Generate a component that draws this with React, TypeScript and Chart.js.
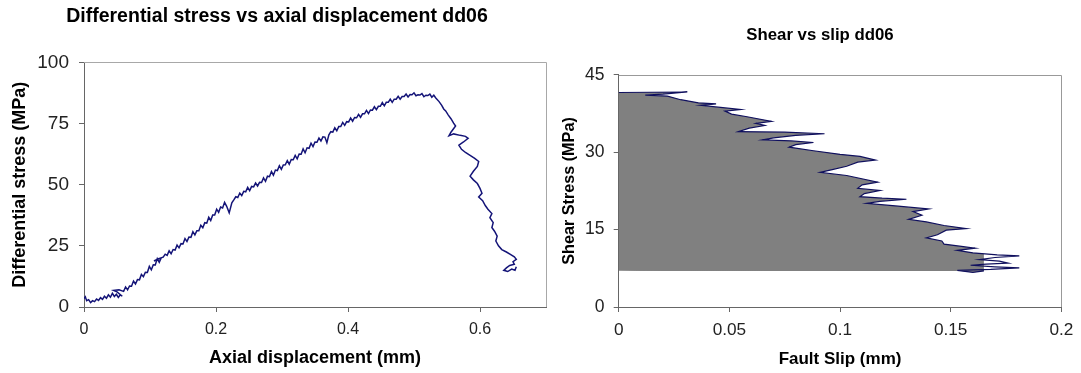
import React, { useEffect, useRef } from "react";
import { Chart, registerables } from "chart.js";

Chart.register(...registerables);

const FONT = "'Liberation Sans', Arial, Helvetica, sans-serif";

// ---------- Left chart: differential stress vs axial displacement ----------
const leftTitle = "Differential stress vs axial displacement dd06";
const leftXTitle = "Axial displacement (mm)";
const leftYTitle = "Differential stress (MPa)";
const leftXTicks = [0, 0.2, 0.4, 0.6];
const leftYTicks = [0, 25, 50, 75, 100];

const displacement = [
  0.000, 0.002, 0.004, 0.007, 0.010, 0.013, 0.016, 0.019, 0.022, 0.025,
  0.028, 0.031, 0.034, 0.037, 0.040, 0.043, 0.046, 0.049, 0.052, 0.055,
  0.058, 0.050, 0.045, 0.053, 0.060, 0.063, 0.066, 0.069, 0.072, 0.075,
  0.078, 0.081, 0.084, 0.087, 0.090, 0.093, 0.096, 0.099, 0.102, 0.105,
  0.108, 0.111, 0.114, 0.117, 0.106, 0.113, 0.120, 0.123, 0.126, 0.129,
  0.132, 0.135, 0.138, 0.141, 0.144, 0.147, 0.150, 0.153, 0.156, 0.159,
  0.162, 0.165, 0.168, 0.171, 0.174, 0.177, 0.180, 0.183, 0.186, 0.189,
  0.192, 0.195, 0.198, 0.201, 0.204, 0.207, 0.210, 0.213, 0.216, 0.220,
  0.224, 0.227, 0.230, 0.233, 0.236, 0.239, 0.242, 0.245, 0.248, 0.251,
  0.254, 0.257, 0.260, 0.263, 0.266, 0.269, 0.272, 0.275, 0.278, 0.281,
  0.284, 0.287, 0.290, 0.293, 0.296, 0.299, 0.302, 0.305, 0.308, 0.311,
  0.314, 0.317, 0.320, 0.323, 0.326, 0.329, 0.332, 0.335, 0.338, 0.341,
  0.344, 0.347, 0.350, 0.353, 0.356, 0.359, 0.362, 0.365, 0.368, 0.371,
  0.374, 0.377, 0.380, 0.383, 0.386, 0.389, 0.392, 0.395, 0.398, 0.401,
  0.404, 0.407, 0.410, 0.413, 0.416, 0.419, 0.422, 0.425, 0.428, 0.431,
  0.434, 0.437, 0.440, 0.443, 0.446, 0.449, 0.452, 0.455, 0.458, 0.461,
  0.464, 0.467, 0.470, 0.473, 0.476, 0.479, 0.482, 0.485, 0.488, 0.491,
  0.494, 0.497, 0.500, 0.503, 0.506, 0.509, 0.512, 0.515, 0.518, 0.521,
  0.524, 0.527, 0.530, 0.533, 0.538, 0.542, 0.545, 0.548, 0.552, 0.556,
  0.560, 0.563, 0.556, 0.553, 0.560, 0.570, 0.578, 0.582, 0.575, 0.568,
  0.572, 0.578, 0.585, 0.592, 0.598, 0.596, 0.590, 0.585, 0.590, 0.596,
  0.600, 0.603, 0.598, 0.604, 0.608, 0.612, 0.618, 0.615, 0.620, 0.618,
  0.622, 0.626, 0.624, 0.628, 0.633, 0.640, 0.646, 0.652, 0.655, 0.650,
  0.652, 0.645, 0.640, 0.636, 0.642, 0.648, 0.653, 0.655,
];

const diffStress = [
  3.5, 4.2, 2.6, 3.0, 1.8, 2.6, 2.2, 3.3, 2.7, 3.8,
  3.1, 4.4, 3.6, 5.0, 4.0, 5.6, 4.3, 5.2, 3.9, 5.0,
  4.4, 6.2, 6.8, 7.0, 6.4, 8.2, 7.0, 8.6, 8.5, 10.6,
  9.4, 11.2, 11.1, 13.3, 12.4, 14.2, 14.1, 16.6, 15.2, 17.3,
  17.2, 19.8, 18.3, 20.1, 18.8, 19.8, 20.4, 21.6, 21.1, 23.0,
  21.8, 23.5, 23.3, 25.3, 24.2, 25.9, 25.8, 28.0, 26.8, 28.6,
  28.5, 30.8, 29.5, 31.2, 31.2, 33.4, 32.4, 34.5, 34.3, 36.7,
  35.4, 37.6, 37.6, 40.0, 38.7, 40.9, 40.5, 42.8, 41.3, 38.5,
  42.6, 43.8, 45.1, 44.8, 46.6, 45.6, 47.3, 47.1, 48.9, 47.6,
  49.3, 49.1, 50.7, 49.5, 51.0, 50.9, 52.8, 51.4, 53.5, 53.3,
  55.4, 53.9, 56.0, 55.8, 57.8, 56.3, 58.1, 58.2, 59.9, 58.4,
  60.3, 60.2, 62.0, 60.6, 62.6, 62.5, 64.7, 63.1, 65.1, 64.9,
  67.0, 65.6, 67.5, 67.4, 69.1, 67.9, 69.6, 69.5, 67.2, 70.4,
  71.7, 71.5, 73.3, 72.1, 73.8, 73.8, 75.5, 74.3, 75.8, 75.7,
  77.3, 76.0, 77.5, 77.4, 78.8, 77.6, 79.0, 79.0, 80.4, 79.1,
  80.6, 80.5, 81.9, 80.7, 82.1, 82.1, 83.6, 82.3, 83.7, 83.7,
  85.0, 83.7, 85.0, 85.0, 86.2, 85.0, 86.1, 86.1, 87.1, 85.9,
  86.9, 86.8, 87.6, 86.4, 86.8, 86.7, 87.3, 86.0, 86.6, 86.5,
  87.1, 85.8, 86.6, 85.5, 84.0, 82.5, 81.0, 80.2, 78.5, 77.0,
  75.2, 74.0, 71.5, 70.0, 70.8, 70.2, 69.8, 69.0, 67.5, 66.2,
  64.5, 63.2, 62.0, 60.8, 59.5, 57.5, 55.5, 53.5, 52.0, 50.5,
  48.5, 46.5, 45.0, 43.5, 41.5, 40.0, 38.2, 36.5, 34.5, 32.5,
  31.0, 29.0, 27.0, 25.0, 23.5, 22.5, 21.5, 20.5, 19.5, 18.5,
  17.5, 17.0, 16.0, 15.0, 14.5, 15.5, 15.0, 16.5,
];

// ---------- Right chart: shear vs slip ----------
const rightTitle = "Shear vs slip dd06";
const rightXTitle = "Fault Slip (mm)";
const rightYTitle = "Shear Stress (MPa)";
const rightXTicks = [0, 0.05, 0.1, 0.15, 0.2];
const rightYTicks = [0, 15, 30, 45];
const fillBase = 7.05;

const faultSlip = [
  0.000, 0.031, 0.020, 0.012, 0.022, 0.028, 0.036, 0.044, 0.037, 0.046,
  0.055, 0.048, 0.051, 0.058, 0.069, 0.062, 0.066, 0.059, 0.054, 0.075,
  0.093, 0.080, 0.070, 0.065, 0.078, 0.088, 0.080, 0.077, 0.088, 0.100,
  0.109, 0.116, 0.108, 0.103, 0.096, 0.091, 0.103, 0.117, 0.110, 0.108,
  0.118, 0.111, 0.109, 0.119, 0.130, 0.118, 0.112, 0.125, 0.140, 0.133,
  0.137, 0.131, 0.139, 0.147, 0.157, 0.148, 0.144, 0.139, 0.146, 0.147,
  0.154, 0.161, 0.153, 0.160, 0.171, 0.181, 0.170, 0.163, 0.172, 0.176,
  0.166, 0.159, 0.170, 0.181, 0.168, 0.153, 0.160, 0.165,
];

const shearStress = [
  41.6, 41.7, 41.3, 41.1, 40.9, 40.2, 39.6, 39.4, 39.1, 38.7,
  38.3, 38.0, 37.4, 36.9, 36.0, 35.6, 35.2, 34.7, 34.0, 33.9,
  33.6, 33.3, 32.8, 32.4, 32.2, 31.9, 31.5, 31.0, 30.3, 29.6,
  29.2, 28.5, 28.1, 27.3, 26.6, 26.1, 25.5, 24.2, 23.7, 23.0,
  22.6, 22.0, 21.4, 21.1, 20.9, 20.5, 20.1, 19.6, 19.0, 18.5,
  17.8, 17.0, 16.5, 15.8, 15.2, 14.9, 14.0, 13.4, 12.8, 12.2,
  11.8, 11.4, 11.0, 10.5, 10.1, 9.9, 9.6, 9.2, 8.9, 8.5,
  8.3, 8.1, 7.8, 7.6, 7.3, 7.1, 6.7, 7.0,
];

const fmt = (v: number) => String(Math.round(v * 10000) / 10000);

function framePlugin(color: string) {
  return {
    id: "frameLines",
    beforeDatasetsDraw(chart: any) {
      const { ctx, chartArea: a } = chart;
      ctx.save();
      ctx.strokeStyle = color;
      ctx.lineWidth = 1;
      ctx.beginPath();
      ctx.moveTo(a.left, Math.round(a.top) + 0.5);
      ctx.lineTo(Math.round(a.right) + 0.5, Math.round(a.top) + 0.5);
      ctx.lineTo(Math.round(a.right) + 0.5, a.bottom);
      ctx.stroke();
      ctx.restore();
    },
  };
}

function makeAxis(o: {
  min: number; max: number; ticks: number[]; tickSize: number; tickPad: number;
  title: string; titleSize: number; titlePad: any; fit: (s: any) => void;
}) {
  return {
    type: "linear",
    min: o.min,
    max: o.max,
    afterFit: o.fit,
    afterBuildTicks: (s: any) => {
      s.ticks = o.ticks.map((v) => ({ value: v }));
    },
    ticks: {
      font: { family: FONT, size: o.tickSize },
      color: "#222",
      padding: o.tickPad,
      maxRotation: 0,
      autoSkip: false,
      callback: (v: any) => fmt(Number(v)),
    },
    grid: {
      display: true,
      drawOnChartArea: false,
      drawTicks: true,
      tickLength: 5,
      color: "#666",
    },
    border: { display: true, color: "#666", width: 1 },
    title: {
      display: true,
      text: o.title,
      color: "#000",
      font: { family: FONT, size: o.titleSize, weight: "bold" },
      padding: o.titlePad,
    },
  };
}

function useChart(ref: React.RefObject<HTMLCanvasElement>, build: () => any) {
  useEffect(() => {
    if (!ref.current) return;
    const chart = new Chart(ref.current, build());
    return () => chart.destroy();
  }, []);
}

export default function App() {
  const leftRef = useRef<HTMLCanvasElement>(null);
  const rightRef = useRef<HTMLCanvasElement>(null);

  useChart(leftRef, () => ({
    type: "scatter",
    data: {
      datasets: [
        {
          data: displacement.map((x, i) => ({ x, y: diffStress[i] })),
          showLine: true,
          borderColor: "#141478",
          borderWidth: 1.5,
          pointRadius: 0,
          fill: false,
        },
      ],
    },
    options: {
      animation: false,
      responsive: true,
      maintainAspectRatio: false,
      layout: { padding: { left: 8, right: 14, top: 0, bottom: 0 } },
      plugins: {
        legend: { display: false },
        tooltip: { enabled: false },
        title: {
          display: true,
          text: leftTitle,
          color: "#000",
          font: { family: FONT, size: 19.5, weight: "bold" },
          padding: { top: 5.3, bottom: 33.8 },
        },
      },
      scales: {
        x: makeAxis({
          min: 0, max: 0.7, ticks: leftXTicks, tickSize: 16, tickPad: 8.4,
          title: leftXTitle, titleSize: 18, titlePad: { top: 0, bottom: 4.2 },
          fit: (s) => { s.height = 66; },
        }),
        y: makeAxis({
          min: 0, max: 100, ticks: leftYTicks, tickSize: 19, tickPad: 10,
          title: leftYTitle, titleSize: 18, titlePad: { top: 0.8, bottom: 0 },
          fit: (s) => { s.width = 76; },
        }),
      },
    },
    plugins: [framePlugin("#a8a8a8")],
  }));

  useChart(rightRef, () => ({
    type: "scatter",
    data: {
      datasets: [
        {
          data: faultSlip.map((x, i) => ({ x, y: shearStress[i] })),
          showLine: true,
          borderColor: "#10105e",
          borderWidth: 1.2,
          backgroundColor: "#808080",
          pointRadius: 0,
          fill: { value: fillBase },
        },
      ],
    },
    options: {
      animation: false,
      responsive: true,
      maintainAspectRatio: false,
      layout: { padding: { left: 19, right: 0, top: 0, bottom: 0 } },
      plugins: {
        legend: { display: false },
        tooltip: { enabled: false },
        title: {
          display: true,
          text: rightTitle,
          color: "#000",
          font: { family: FONT, size: 16.8, weight: "bold" },
          padding: { top: 24.9, bottom: 29.9 },
        },
      },
      scales: {
        x: makeAxis({
          min: 0, max: 0.2, ticks: rightXTicks, tickSize: 17.2, tickPad: 7.7,
          title: rightXTitle, titleSize: 17, titlePad: { top: 0, bottom: 3.8 },
          fit: (s) => { s.height = 66; },
        }),
        y: makeAxis({
          min: 0, max: 45, ticks: rightYTicks, tickSize: 17.5, tickPad: 9.2,
          title: rightYTitle, titleSize: 16.2, titlePad: { top: 0.6, bottom: 0 },
          fit: (s) => { s.width = 59.7; },
        }),
        spacer: {
          type: "linear",
          position: "right",
          display: true,
          afterFit: (s: any) => { s.width = 15; },
          grid: { display: false, drawTicks: false },
          ticks: { display: false },
          border: { display: false },
          title: { display: false },
        },
      },
    },
    plugins: [framePlugin("#999999")],
  }));

  return (
    <div style={{ position: "absolute", left: 0, top: 0, width: 1081, height: 373, background: "#fff" }}>
      <div style={{ position: "absolute", left: 0, top: 0, width: 560, height: 373 }}>
        <canvas ref={leftRef} style={{ display: "block" }} />
      </div>
      <div style={{ position: "absolute", left: 540, top: 0, width: 541, height: 373 }}>
        <canvas ref={rightRef} style={{ display: "block" }} />
      </div>
    </div>
  );
}
